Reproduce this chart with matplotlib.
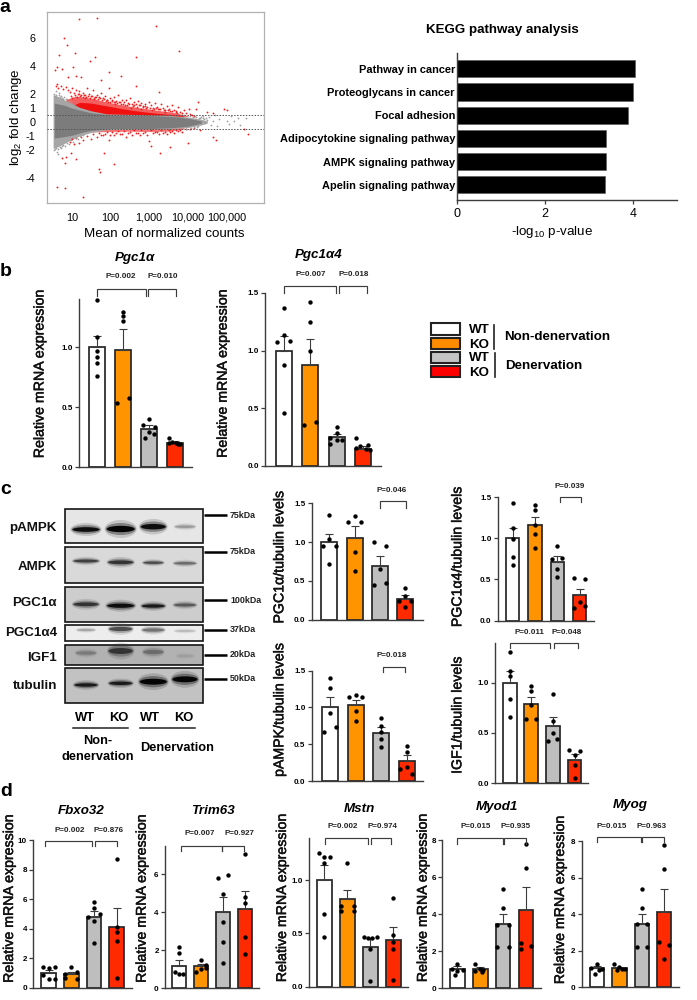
import matplotlib
matplotlib.use('Agg')
import numpy as np
import matplotlib.pyplot as plt
import matplotlib.patheffects as pe
from matplotlib.patches import Ellipse, Rectangle

plt.rcParams['font.family'] = ['Liberation Sans', 'DejaVu Sans']
plt.rcParams['mathtext.default'] = 'regular'

W, H = 697, 1000
BAR_COLORS = ['white', '#FF9300', '#BEBEBE', '#FF2A00']
LINE = '#3c3c3c'

# --- panel a, MA plot: outline of the dense cloud plus the scattered genes that can be told apart
cloud_lx = [0.55, 0.8, 1.0, 1.25, 1.5, 2.0, 2.5, 3.0, 3.5, 3.8, 4.0, 4.2, 4.35]
cloud_up = [1.35, 1.2, 1.0, 0.82, 0.66, 0.5, 0.48, 0.46, 0.4, 0.34, 0.26, 0.16, 0.06]
cloud_lo = [-1.15, -1.05, -0.95, -0.75, -0.6, -0.47, -0.47, -0.47, -0.42, -0.36, -0.3, -0.18, -0.06]
halo_lx = [0.52, 0.7, 0.9, 1.2, 1.5, 1.9, 3.5, 4.0, 4.3, 4.5]
halo_up = [1.95, 1.75, 1.45, 1.05, 0.8, 0.58, 0.48, 0.36, 0.22, 0.08]
halo_lo = [-1.9, -1.7, -1.4, -1.0, -0.75, -0.55, -0.48, -0.4, -0.24, -0.08]
red_up_lx = [1.0, 1.2, 1.5, 1.8, 2.0, 2.3, 2.6, 3.0, 3.3, 3.6, 3.9]
red_up = [1.15, 1.4, 1.35, 1.2, 1.1, 0.95, 0.82, 0.68, 0.6, 0.52, 0.44]
red_halo_lx = [0.85, 1.1, 1.5, 1.8, 2.0, 2.3, 2.6, 3.0, 3.3, 3.6, 4.0]
red_halo = [1.6, 1.85, 1.7, 1.5, 1.38, 1.22, 1.08, 0.92, 0.8, 0.7, 0.45]
red_lo_lx = [1.5, 2.0, 2.5, 3.0, 3.5, 3.9]
red_lo = [-0.72, -0.68, -0.66, -0.68, -0.66, -0.5]
red_far_lx = [1.2, 1.66, 3.17, 0.8, 0.87, 0.66, 1.09, 3.76, 1.47, 1.61, 2.66, 1.04, 0.63, 0.74, 0.57,
              0.9, 1.11, 1.24, 1.96, 2.28, 1.75, 2.67, 3.25, 4.27, 4.03, 4.22, 4.49, 4.92, 5.01, 4.66,
              0.62, 0.83, 1.3, 1.7, 1.72, 2.08, 1.11, 0.76, 0.86, 0.82, 0.97, 1.84, 3.04, 3.27, 3.53, 4.0,
              4.66, 4.72, 5.45, 5.55, 4.31]
red_far_y = [7.33, 7.4, 6.83, 6.0, 5.5, 4.8, 4.9, 5.05, 4.38, 4.67, 4.64, 3.95, 3.95, 3.79, 3.71,
             3.19, 3.29, 3.24, 3.55, 3.26, 3.0, 2.55, 2.12, 1.43, 0.93, 0.9, 0.74, 0.9, 0.86, 0.62,
             -4.67, -4.74, -5.33, -3.38, -3.55, -3.0, -2.67, -2.6, -2.48, -2.95, -2.24, -2.19,
             -1.71, -2.19, -1.76, -1.52, -1.05, -1.29, -0.52, -0.86, -0.57]
red_up_pts_lx = [0.62, 0.6, 0.65, 0.72, 0.78, 0.85, 0.9, 0.95, 1.0, 1.05, 1.1, 1.15, 1.2, 1.25, 1.3, 1.35,
                 1.4, 1.45, 1.5, 1.55, 1.6, 1.65, 1.7, 1.75, 1.8, 1.85, 1.9, 1.95, 2.0, 2.05, 2.1, 2.15,
                 2.2, 2.25, 2.3, 2.35, 2.4, 2.45, 2.5, 2.55, 2.6, 2.65, 2.7, 2.75, 2.8, 2.85, 2.9, 2.95,
                 3.0, 3.05, 3.1, 3.15, 3.2, 3.25, 3.3, 3.35, 3.4, 3.45, 3.5, 3.55, 3.6, 3.65, 3.7, 3.75,
                 3.8, 3.9, 3.95, 4.05, 1.02, 1.33, 1.58, 1.93, 2.12, 2.38, 2.52, 2.78, 3.08, 3.42, 3.72,
                 0.98, 1.08, 1.13, 1.18, 1.22, 1.28, 1.32, 1.38, 1.42, 1.48, 1.53, 1.57, 1.62, 1.68, 1.73,
                 1.78, 1.83, 1.88, 1.92, 1.98, 2.03, 2.08, 2.13, 2.18, 2.23, 2.28, 2.33, 2.42, 2.47, 2.57,
                 2.62, 2.68, 2.73, 2.83, 2.88, 2.93, 3.02, 3.12, 3.18, 3.22, 3.28, 3.38, 3.48, 3.58, 3.68,
                 3.85, 4.1, 4.15]
red_up_pts_y = [2.7, 2.55, 2.45, 2.6, 2.35, 2.5, 2.3, 2.15, 2.4, 2.1, 2.25, 2.0, 2.2, 1.95, 2.05, 1.9,
                2.45, 2.0, 1.85, 2.3, 1.8, 1.95, 1.75, 2.1, 1.7, 1.85, 1.6, 2.4, 1.7, 1.55, 1.75, 1.5,
                1.9, 1.45, 1.6, 1.4, 1.55, 1.35, 1.7, 1.3, 1.45, 1.25, 1.5, 1.2, 1.35, 1.15, 1.3, 1.1,
                1.45, 1.2, 1.0, 1.35, 1.1, 0.95, 1.25, 1.0, 0.85, 1.15, 0.9, 0.8, 1.2, 0.85, 0.75, 1.05,
                0.7, 0.85, 0.65, 0.6, 1.7, 1.72, 1.62, 1.42, 1.28, 1.18, 1.02, 0.92, 0.84, 0.74, 0.62,
                1.85, 1.95, 1.8, 2.0, 1.88, 1.82, 1.95, 1.78, 1.85, 1.72, 1.85, 1.68, 1.75, 1.62, 1.7,
                1.58, 1.62, 1.5, 1.58, 1.45, 1.52, 1.4, 1.46, 1.34, 1.4, 1.28, 1.32, 1.24, 1.3, 1.16,
                1.2, 1.1, 1.18, 1.05, 1.12, 1.0, 1.02, 0.95, 1.0, 0.9, 0.95, 0.85, 0.88, 0.78, 0.72,
                0.62, 0.5, 0.42]
red_lo_pts_lx = [0.95, 1.0, 1.05, 1.1, 1.2, 1.25, 1.3, 1.4, 1.5, 1.55, 1.65, 1.7, 1.8, 1.9, 1.95, 2.05,
                 2.1, 2.2, 2.3, 2.35, 2.4, 2.5, 2.6, 2.7, 2.8, 2.9, 3.0, 3.05, 3.15, 3.3, 3.4, 3.5, 3.6,
                 3.7, 3.8, 3.95, 1.75, 1.85, 2.0, 2.15, 2.25, 2.45, 2.55, 2.65, 2.75, 2.85, 2.95, 3.1,
                 3.2, 3.25, 3.35, 3.45, 3.55, 3.65, 3.75, 3.85, 4.05, 4.15]
red_lo_pts_y = [-1.4, -1.2, -1.6, -1.15, -1.5, -1.05, -1.3, -1.0, -1.25, -0.85, -1.1, -0.8, -0.95, -0.75,
                -1.3, -0.7, -0.9, -0.65, -0.85, -0.62, -1.1, -0.7, -0.6, -0.8, -0.58, -0.75, -1.35, -0.6,
                -0.75, -0.58, -0.7, -0.56, -0.65, -0.54, -0.6, -0.5, -0.95, -0.85, -0.92, -0.8, -0.88,
                -0.82, -0.9, -0.78, -0.95, -0.76, -0.9, -0.82, -0.72, -0.85, -0.78, -0.88, -0.74, -0.8,
                -0.66, -0.72, -0.48, -0.42]
gray_pts_lx = [4.3, 4.38, 4.45, 4.5, 4.55, 4.6, 4.65, 4.7, 4.75, 4.8, 5.0, 5.05, 5.1, 5.2, 5.3, 5.35, 5.5,
               4.2, 4.25, 4.4, 4.35, 0.58, 0.62, 0.66, 0.6, 0.7, 0.78, 0.64, 0.75,
               0.54, 0.56, 0.6, 0.63, 0.68, 0.72, 0.76, 0.8, 0.84, 0.88, 0.93, 0.97, 1.02, 1.07, 1.12,
               0.55, 0.59, 0.64, 0.69, 0.73, 0.78, 0.83, 0.87, 0.92, 0.98, 1.04, 1.1, 1.16, 1.22, 1.3,
               3.9, 4.05, 4.12, 4.18, 4.28, 4.33, 4.42, 4.47, 3.95, 4.08, 4.16, 4.24]
gray_pts_y = [0.3, 0.45, -0.1, 0.15, 0.35, -0.2, 0.05, 0.5, -0.3, 0.2, 0.1, -0.15, 0.45, 0.05, 0.3, -0.25, 0.25,
              0.32, -0.3, 0.25, -0.18, -1.95, -2.15, 2.05, 2.2, 1.75, 1.62, -2.3, -1.7,
              2.0, 1.85, 1.95, 1.8, 1.9, 1.85, 1.72, 1.8, 1.65, 1.62, 1.5, 1.4, 1.32, 1.22, 1.1,
              -2.0, -1.88, -1.95, -1.8, -1.85, -1.65, -1.75, -1.5, -1.6, -1.3, -1.42, -1.15, -1.22, -1.0, -0.92,
              0.5, 0.42, 0.36, 0.42, 0.28, 0.36, 0.2, 0.28, -0.52, -0.44, -0.36, -0.34]
ma_ticks = [6, 4, 2, 1, 0, -1, -2, -4]
ma_xticks = [10, 100, 1000, 10000, 100000]
ma_xlabels = ['10', '100', '1,000', '10,000', '100,000']

# --- panel a, KEGG
kegg_names = ['Pathway in cancer', 'Proteoglycans in cancer', 'Focal adhesion',
              'Adipocytokine signaling pathway', 'AMPK signaling pathway', 'Apelin signaling pathway']
kegg_values = [4.03, 4.0, 3.89, 3.38, 3.38, 3.37]

# --- bar panels: bar height, top of error bar, dots per group, sideways offset of the dots
pgc1a_means = [1.0, 0.975, 0.32, 0.205]
pgc1a_tops = [1.09, 1.15, 0.35, 0.22]
pgc1a_dots = [[1.39, 1.085, 0.97, 0.917, 0.867, 0.76], [1.29, 1.257, 1.213, 0.536, 0.575],
              [0.398, 0.354, 0.337, 0.296, 0.246, 0.276], [0.246, 0.213, 0.2, 0.193, 0.2, 0.19]]
pgc1a_dx = [[0, 0, 0, 0, 0, 0], [0, 0, 0, -0.23, 0.23],
            [0, -0.25, 0.23, 0, -0.14, 0.2], [-0.25, -0.12, 0.04, 0.2, -0.25, 0.1]]

pgc1a4_means = [1.0, 0.88, 0.25, 0.15]
pgc1a4_tops = [1.125, 1.1, 0.275, 0.17]
pgc1a4_dots = [[1.372, 1.135, 1.075, 1.08, 0.875, 0.457], [1.42, 1.245, 0.997, 0.355, 0.378],
               [0.338, 0.289, 0.245, 0.225, 0.225, 0.188], [0.24, 0.185, 0.17, 0.15, 0.14, 0.16]]
pgc1a4_dx = [[0, 0, -0.27, 0.24, 0, 0], [0, 0, 0, -0.25, 0.22],
             [0, 0, -0.25, 0, 0.22, -0.25], [-0.25, 0.2, -0.1, 0.1, 0.28, -0.28]]

pgc1a_wb_means = [1.0, 1.057, 0.696, 0.266]
pgc1a_wb_tops = [1.1, 1.205, 0.82, 0.315]
pgc1a_wb_dots = [[1.35, 1.04, 0.95, 0.95, 0.713], [1.34, 1.255, 1.255, 0.868, 0.632],
                 [1.006, 0.95, 0.65, 0.447, 0.468], [0.404, 0.245, 0.245, 0.3, 0.16]]
pgc1a_wb_dx = [[0, 0, -0.25, 0.25, 0], [0, -0.25, 0.25, 0, 0],
               [-0.25, 0.25, 0, -0.25, 0.24], [0, -0.25, 0.24, 0, 0]]

pgc1a4_wb_means = [1.0, 1.165, 0.715, 0.306]
pgc1a4_wb_tops = [1.125, 1.26, 0.78, 0.39]
pgc1a4_wb_dots = [[1.427, 1.12, 0.99, 0.774, 0.68], [1.403, 1.34, 1.157, 1.056, 0.887],
                  [0.907, 0.766, 0.75, 0.629, 0.532], [0.516, 0.504, 0.222, 0.149, 0.173]]
pgc1a4_wb_dx = [[0, 0, 0, 0, 0], [0, 0, 0, 0, 0],
                [0, 0.23, -0.23, 0, 0], [-0.25, 0.24, 0, -0.25, 0.24]]

pampk_means = [1.0, 1.036, 0.652, 0.276]
pampk_tops = [1.145, 1.108, 0.728, 0.348]
pampk_dots = [[1.407, 1.27, 0.928, 0.73, 0.665], [1.145, 1.163, 1.136, 0.955, 0.819],
              [0.851, 0.751, 0.67, 0.566, 0.466], [0.47, 0.398, 0.195, 0.16, 0.1]]
pampk_dx = [[0, 0, 0, 0.25, -0.25], [-0.25, 0, 0.25, 0, 0],
            [0, 0, 0, 0, 0], [0, 0, 0, -0.25, 0.2]]

igf1_means = [1.0, 0.784, 0.568, 0.232]
igf1_tops = [1.115, 0.857, 0.654, 0.285]
igf1_dots = [[1.31, 1.12, 1.063, 0.84, 0.654], [0.97, 0.917, 0.774, 0.64, 0.64],
             [0.884, 0.62, 0.494, 0.444, 0.42], [0.328, 0.318, 0.278, 0.178, 0.05]]
igf1_dx = [[0, 0, 0, 0, 0], [0, 0, 0, -0.24, 0.24],
           [0, 0, 0, 0.2, -0.25], [-0.25, 0.25, 0, 0, 0]]

fbxo32_means = [1.0, 0.93, 4.77, 4.09]
fbxo32_tops = [1.2, 1.09, 5.18, 5.41]
fbxo32_dots = [[1.42, 1.31, 1.38, 0.86, 0.59, 0.59], [1.38, 1.04, 0.9, 0.63, 0.59],
               [5.84, 5.43, 4.82, 5.02, 4.55, 3.01], [8.71, 4.14, 3.8, 3.19, 0.68]]
fbxo32_dx = [[-0.25, 0, 0.27, -0.25, 0, 0.27], [0, 0.25, -0.27, -0.27, 0.25],
             [0, 0, -0.27, 0.25, 0, 0], [0, 0, 0, 0, 0]]

trim63_means = [1.19, 1.19, 4.0, 4.16]
trim63_tops = [1.47, 1.28, 4.8, 5.1]
trim63_dots = [[2.19, 1.88, 0.88, 0.74, 0.75], [1.49, 1.23, 1.09, 0.84, 1.0],
               [5.96, 5.79, 4.98, 3.47, 2.42, 1.35], [7.09, 4.82, 4.5, 2.68, 1.81]]
trim63_dx = [[0, 0, -0.2, 0, 0.2], [0, 0.23, 0.23, -0.24, 0],
             [0.24, -0.24, 0, 0, 0, 0], [0, 0, 0, 0, 0]]

mstn_means = [1.0, 0.82, 0.37, 0.435]
mstn_tops = [1.14, 0.906, 0.46, 0.565]
mstn_dots = [[1.254, 1.22, 1.22, 1.166, 0.683, 0.464], [1.16, 0.76, 0.71, 0.76, 0.71],
             [0.47, 0.455, 0.455, 0.47, 0.354, 0.053], [0.83, 0.49, 0.42, 0.354, 0.06]]
mstn_dx = [[-0.25, 0, 0.25, 0, 0, 0], [0, -0.27, -0.27, 0.27, 0.27],
           [-0.27, -0.08, 0.08, 0.27, 0, 0], [0, 0, 0, 0, 0]]

myod1_means = [1.03, 1.06, 3.46, 4.22]
myod1_tops = [1.2, 1.15, 4.0, 5.45]
myod1_dots = [[1.3, 1.05, 0.99, 0.95, 0.72], [1.3, 1.05, 1.0, 0.95, 0.9],
              [5.37, 4.34, 3.42, 3.42, 2.22, 2.22], [7.8, 6.49, 2.47, 2.29, 2.13]]
myod1_dx = [[0, -0.25, 0.24, 0, -0.08], [-0.24, 0, 0.13, -0.24, 0.1],
            [0, 0, -0.25, 0.24, -0.25, 0.24], [0, 0, -0.22, 0.22, -0.22]]

myog_means = [1.03, 1.05, 3.47, 4.1]
myog_tops = [1.17, 1.13, 4.0, 5.37]
myog_dots = [[1.28, 1.05, 1.0, 0.95, 0.73], [1.28, 1.1, 1.02, 0.95, 0.98],
             [5.37, 4.33, 3.45, 3.45, 2.21, 2.21], [7.8, 6.47, 2.47, 2.3, 1.53]]
myog_dx = [[0, -0.27, 0.24, 0.08, -0.08], [-0.24, 0, 0.13, -0.1, 0.24],
           [0, 0, -0.22, 0.22, -0.22, 0.22], [0, 0, -0.22, 0.22, 0]]

# --- blot: one row per antibody, values are the band darkness in each lane (0 black, 1 white)
blot_names = ['pAMPK', 'AMPK', 'PGC1α', 'PGC1α4', 'IGF1', 'tubulin']
blot_background = ['#E6E6E6', '#D9D9D9', '#CDCDCD', '#EDEDED', '#B2B2B2', '#C2C2C2']
blot_band_gray = [[0.05, 0.02, 0.05, 0.6], [0.25, 0.2, 0.3, 0.42], [0.2, 0.05, 0.1, 0.35],
                  [0.65, 0.3, 0.45, 0.72], [0.48, 0.2, 0.42, 0.62], [0.1, 0.1, 0.02, 0.02]]
blot_sizes = ['75kDa', '75kDa', '100kDa', '37kDa', '20kDa', '50kDa']
lanes = ['WT', 'KO', 'WT', 'KO']


def px_axes(left, top, right, bottom):
    return fig.add_axes([left / W, 1 - bottom / H, (right - left) / W, (bottom - top) / H])


def bar_panel(means, tops, dots, dx, left, right, top, base, ymax, yticks, first, step, bar_w):
    ax = px_axes(left, top, right, base)
    x = np.arange(4)
    ax.bar(x, means, width=bar_w / step, color=BAR_COLORS, edgecolor='#262626', linewidth=1.25, zorder=2)
    lower = [0, 0, 0, 0]
    upper = [t - m for t, m in zip(tops, means)]
    ax.errorbar(x, means, yerr=[lower, upper], fmt='none', ecolor=LINE, elinewidth=0.8,
                capsize=3, capthick=0.8, zorder=3)
    for i in range(4):
        ax.scatter(i + np.array(dx[i]), dots[i], s=10, color='black', linewidths=0, zorder=4, clip_on=False)
    ax.set_xlim((left - first) / step, (right - first) / step)
    ax.set_ylim(0, ymax)
    ax.set_xticks([])
    ax.set_yticks(yticks)
    ax.set_yticklabels(['%.1f' % t if ymax < 2 else '%d' % t for t in yticks], fontsize=5.8, fontweight='bold')
    ax.tick_params(axis='y', length=3, width=0.9, color=LINE, pad=1.5)
    for s in ['top', 'right']:
        ax.spines[s].set_visible(False)
    for s in ['left', 'bottom']:
        ax.spines[s].set_color(LINE)
        ax.spines[s].set_linewidth(1.0)
    ax.patch.set_alpha(0)
    return ax


def bracket(x0, x1, y0, y1):
    over.plot([x0, x0, x1, x1], [y1, y0, y0, y1], color=LINE, lw=0.85, solid_joinstyle='miter')


def ptext(x, y, s):
    over.text(x, y, s, fontsize=5.8, fontweight='bold', ha='center', va='center', color='#222222')


def ylab(x, y, s):
    over.text(x, y, s, fontsize=10.2, rotation=90, ha='center', va='center', color='#111111',
              path_effects=[pe.withStroke(linewidth=0.35, foreground='#111111')])


def title(x, y, s):
    over.text(x, y, s, fontsize=9.6, fontweight='bold', style='italic', ha='center', va='center')


fig = plt.figure(figsize=(W / 100, H / 100), dpi=100)

# MA plot
ax = px_axes(46.7, 11.7, 264, 203)
ax.fill_between(10.0 ** np.array(red_halo_lx), [0.4] * len(red_halo_lx), red_halo, color='#F46060', lw=0, zorder=1)
ax.fill_between(10.0 ** np.array(red_up_lx), [0.4] * len(red_up_lx), red_up, color='#F01010', lw=0, zorder=1.1)
ax.fill_between(10.0 ** np.array(red_lo_lx), [-0.4] * len(red_lo_lx), red_lo, color='#F01818', lw=0, alpha=0.6, zorder=1)
ax.scatter(10.0 ** np.array(red_far_lx), red_far_y, s=1.8, color='#F02020', linewidths=0, zorder=2)
ax.scatter(10.0 ** np.array(red_up_pts_lx), red_up_pts_y, s=1.8, color='#F02020', linewidths=0, zorder=2)
ax.scatter(10.0 ** np.array(red_lo_pts_lx), red_lo_pts_y, s=1.8, color='#F02020', linewidths=0, zorder=2)
ax.fill_between(10.0 ** np.array(halo_lx), halo_lo, halo_up, color='#A6A6A6', lw=0, zorder=1.5)
ax.scatter(10.0 ** np.array(gray_pts_lx), gray_pts_y, s=1.6, color='#A0A0A0', linewidths=0, zorder=2)
ax.fill_between(10.0 ** np.array(cloud_lx), cloud_lo, cloud_up, color='#7C7C7C', lw=0, zorder=3)
ax.axhline(0.5, color='#555555', lw=0.7, ls=(0, (1.5, 1.5)), zorder=4)
ax.axhline(-0.5, color='#555555', lw=0.7, ls=(0, (1.5, 1.5)), zorder=4)
ax.set_xscale('log')
ax.set_xlim(2.26, 920000)
ax.set_ylim(-5.79, 7.88)
ax.set_xticks(ma_xticks)
ax.set_xticklabels(ma_xlabels, fontsize=7.8)
ax.minorticks_off()
ax.set_yticks(ma_ticks)
ax.set_yticklabels([str(t) for t in ma_ticks], fontsize=7.8)
ax.tick_params(axis='x', length=0, pad=7)
ax.tick_params(axis='y', length=0, pad=8)
for s in ax.spines.values():
    s.set_color('#B0B0B0')
    s.set_linewidth(0.9)

# KEGG bars
ax = px_axes(457, 53.3, 677.3, 200)
y = np.arange(len(kegg_names))
ax.barh(y, kegg_values, height=0.74, color='black', edgecolor='#555555', linewidth=0.4)
ax.set_ylim(5.65, -0.668)
ax.set_xlim(0, 5)
ax.set_xticks([0, 2, 4])
ax.set_xticklabels(['0', '2', '4'], fontsize=9)
ax.set_yticks(y)
ax.set_yticklabels(kegg_names, fontsize=7.9, fontweight='bold')
ax.tick_params(axis='y', length=0, pad=1.5)
ax.tick_params(axis='x', length=3, width=0.9, color=LINE, pad=3)
for s in ['top', 'right']:
    ax.spines[s].set_visible(False)
for s in ['left', 'bottom']:
    ax.spines[s].set_color(LINE)
    ax.spines[s].set_linewidth(1.0)

# panel b
bar_panel(pgc1a_means, pgc1a_tops, pgc1a_dots, pgc1a_dx, 79.3, 191.7, 299.3, 467.3, 1.397, [0, 0.5, 1.0], 97, 26, 16)
bar_panel(pgc1a4_means, pgc1a4_tops, pgc1a4_dots, pgc1a4_dx, 265, 381, 293, 466, 1.5, [0, 0.5, 1.0, 1.5], 283.7, 26.4, 16)

# panel c
bar_panel(pgc1a_wb_means, pgc1a_wb_tops, pgc1a_wb_dots, pgc1a_wb_dx, 311.7, 422.7, 503.3, 619.7, 1.5, [0, 0.5, 1.0, 1.5], 329.3, 25.3, 16)
bar_panel(pgc1a4_wb_means, pgc1a4_wb_tops, pgc1a4_wb_dots, pgc1a4_wb_dx, 497.7, 594.3, 497, 620.7, 1.5, [0, 0.5, 1.0, 1.5], 512.7, 22.3, 13.5)
bar_panel(pampk_means, pampk_tops, pampk_dots, pampk_dx, 311.7, 422.5, 670.7, 781, 1.5, [0, 0.5, 1.0, 1.5], 330, 25.5, 16)
bar_panel(igf1_means, igf1_tops, igf1_dots, igf1_dx, 495, 588.3, 642.7, 783, 1.4, [0, 0.5, 1.0], 509.7, 21.6, 13.7)

# panel d
bar_panel(fbxo32_means, fbxo32_tops, fbxo32_dots, fbxo32_dx, 33.3, 131.7, 840.3, 987.7, 10, [0, 2, 4, 6, 8, 10], 48.7, 22.7, 14.7)
bar_panel(trim63_means, trim63_tops, trim63_dots, trim63_dx, 165, 259, 846, 988.3, 7.49, [0, 2, 4, 6], 179, 21.9, 14)
bar_panel(mstn_means, mstn_tops, mstn_dots, mstn_dx, 309, 408.3, 837.7, 986.7, 1.4, [0, 0.5, 1.0], 324.3, 23, 14.7)
bar_panel(myod1_means, myod1_tops, myod1_dots, myod1_dx, 442.3, 541, 840.3, 988.3, 8, [0, 2, 4, 6, 8], 457.3, 22.9, 14.7)
bar_panel(myog_means, myog_tops, myog_dots, myog_dx, 581.7, 679.3, 841, 987.3, 8, [0, 2, 4, 6, 8], 597, 22.4, 14.3)

# everything else is placed on a full figure layer in pixel coordinates
over = fig.add_axes([0, 0, 1, 1])
over.set_xlim(0, W)
over.set_ylim(H, 0)
over.axis('off')
over.patch.set_alpha(0)

for s, xp, yp in [('a', 5, 8), ('b', 6, 271), ('c', 6, 489), ('d', 6, 791)]:
    over.text(xp, yp, s, fontsize=14, fontweight='bold', ha='center', va='center')

over.text(16, 117, r'log$_2$ fold change', fontsize=9.6, rotation=90, ha='center', va='center')
over.text(164, 234, 'Mean of normalized counts', fontsize=9.6, ha='center', va='center')
over.text(502, 30, 'KEGG pathway analysis', fontsize=9.6, fontweight='bold', ha='center', va='center')
over.text(552, 232, r'-log$_{10}$ p-value', fontsize=9.6, ha='center', va='center')

# panel b labels
title(135, 258, 'Pgc1α')
title(319, 255, 'Pgc1α4')
ylab(39.5, 374, 'Relative mRNA expression')
ylab(222.7, 373.7, 'Relative mRNA expression')
ptext(120.7, 276.7, 'P=0.002')
ptext(163, 276.7, 'P=0.010')
bracket(97, 145.7, 289, 295.7)
bracket(148.3, 175.7, 289, 295.7)
ptext(310.7, 274.5, 'P=0.007')
ptext(354, 274.5, 'P=0.018')
bracket(283.7, 336.3, 286, 292.7)
bracket(338.7, 366.7, 286, 292.7)

# legend
legend_tops = [323.3, 338, 352, 366]
legend_fill = ['white', '#FF8C00', '#C4C4C4', '#FF0000']
for t, c in zip(legend_tops, legend_fill):
    over.add_patch(Rectangle((431, t), 29.3, 11.3, facecolor=c, edgecolor='#222222', lw=1.5))
for yp, s in [(330, 'WT'), (344.5, 'KO'), (358, 'WT'), (373, 'KO')]:
    over.text(479.5, yp, s, fontsize=9.6, fontweight='bold', ha='center', va='center')
over.plot([494, 494], [324.7, 348.7], color='#222222', lw=1.2)
over.plot([495, 495], [352.7, 376.7], color='#222222', lw=1.2)
over.text(504.3, 337.3, 'Non-denervation', fontsize=9.6, fontweight='bold', ha='left', va='center')
over.text(505.3, 365.7, 'Denervation', fontsize=9.6, fontweight='bold', ha='left', va='center')

# blot
blot_top = [509, 546.7, 586.7, 625.3, 645.3, 668]
blot_bottom = [543.3, 583.3, 621.7, 641, 665, 702.7]
band_y = [[529.5, 529, 526.7, 526.7], [561, 562.3, 562.7, 563.3], [604.3, 605.7, 606, 605], [630, 629, 630, 631],
          [653, 651, 652, 656], [685, 683.3, 681.7, 679.3]]
band_w = [[27, 28, 25, 20], [25, 25, 20, 22], [25, 27, 23, 22], [18, 23, 22, 20], [20, 24, 20, 17], [23, 23, 27, 25]]
band_h = [[5.5, 7.5, 6.5, 3], [3.5, 4.5, 3, 3], [4.5, 5, 4, 3.5], [2.5, 5, 4, 2.2], [4, 7, 5, 3], [4, 4, 7, 7]]
lane_x = [86, 120.7, 153.3, 185]
for r in range(6):
    over.add_patch(Rectangle((65, blot_top[r]), 138.3, blot_bottom[r] - blot_top[r],
                             facecolor=blot_background[r], edgecolor='#151515', lw=1.2))
    for j in range(4):
        g = blot_band_gray[r][j]
        col = (g, g, g)
        # soft halo layers, then the band itself
        over.add_patch(Ellipse((lane_x[j], band_y[r][j]), band_w[r][j] * 1.15, band_h[r][j] * 2.4,
                               facecolor=col, edgecolor='none', alpha=0.15))
        over.add_patch(Ellipse((lane_x[j], band_y[r][j]), band_w[r][j] * 1.08, band_h[r][j] * 1.6,
                               facecolor=col, edgecolor='none', alpha=0.35))
        over.add_patch(Ellipse((lane_x[j], band_y[r][j]), band_w[r][j], band_h[r][j] * 0.85,
                               facecolor=col, edgecolor='none'))
    over.text(57, [527.7, 566.7, 603.3, 632.7, 658, 686][r], blot_names[r], fontsize=9.6, fontweight='bold',
              ha='right', va='center', color='#111111')
    ym = [515, 551.7, 600.3, 630, 654.7, 678.7][r]
    over.plot([204, 226.7], [ym, ym], color='black', lw=1.8, solid_capstyle='butt')
    over.text(230, ym, blot_sizes[r], fontsize=6.4, fontweight='bold', ha='left', va='center', color='#222222')
for xp, s in zip([85, 119, 150, 184], lanes):
    over.text(xp, 718.3, s, fontsize=9.3, fontweight='bold', ha='center', va='center')
over.plot([73, 128], [728.3, 728.3], color='#222222', lw=1.1)
over.plot([140, 195], [728.3, 728.3], color='#222222', lw=1.1)
over.text(98, 740.7, 'Non-', fontsize=9.2, fontweight='bold', ha='center', va='center')
over.text(97.5, 756.7, 'denervation', fontsize=9.2, fontweight='bold', ha='center', va='center')
over.text(176.7, 747.7, 'Denervation', fontsize=9.2, fontweight='bold', ha='center', va='center')

# panel c labels
ylab(279.3, 557, 'PGC1α/tubulin levels')
ylab(457.3, 556.7, 'PGC1α4/tubulin levels')
ylab(279.3, 710, 'pAMPK/tubulin levels')
ylab(457.3, 715, 'IGF1/tubulin levels')
ptext(391.3, 490.3, 'P=0.046')
bracket(379.7, 406, 501.3, 507.7)
ptext(570, 486.7, 'P=0.039')
bracket(559.7, 581.3, 497.3, 501.7)
ptext(391.3, 655.3, 'P=0.018')
bracket(383.3, 405, 666.7, 672.3)
ptext(529.3, 632, 'P=0.011')
ptext(566.7, 632, 'P=0.048')
bracket(510, 549.7, 642.7, 647.7)
bracket(553.7, 578, 642.7, 647.7)

# panel d labels
title(81, 810.7, 'Fbxo32')
title(212.7, 811, 'Trim63')
title(359.3, 809.3, 'Mstn')
title(497.3, 807.3, 'Myod1')
title(630.3, 805.3, 'Myog')
ylab(9, 898.7, 'Relative mRNA expression')
ylab(141.7, 898.7, 'Relative mRNA expression')
ylab(282, 898, 'Relative mRNA expression')
ylab(422.7, 898, 'Relative mRNA expression')
ylab(560, 900, 'Relative mRNA expression')
ptext(69.3, 830, 'P=0.002')
ptext(109, 830, 'P=0.876')
bracket(44.7, 91.7, 840.7, 845.7)
bracket(94.7, 117.3, 840.7, 845.7)
ptext(199.3, 833.3, 'P=0.007')
ptext(239.3, 833.3, 'P=0.927')
bracket(181.3, 221.7, 845.7, 851)
bracket(222.3, 243.7, 845.7, 851)
ptext(342.5, 826.7, 'P=0.002')
ptext(382.3, 826.7, 'P=0.974')
bracket(325, 367.7, 838.3, 843.7)
bracket(370.7, 391.3, 838.3, 843.7)
ptext(475.7, 827, 'P=0.015')
ptext(516, 827, 'P=0.935')
bracket(456.7, 502.7, 838.3, 843.7)
bracket(504.3, 525.7, 838.3, 843.7)
ptext(611.7, 826.3, 'P=0.015')
ptext(652, 826.3, 'P=0.963')
bracket(597, 641, 837, 842.3)
bracket(642, 664.3, 837, 842.3)

fig.savefig('out.png', dpi=100)
